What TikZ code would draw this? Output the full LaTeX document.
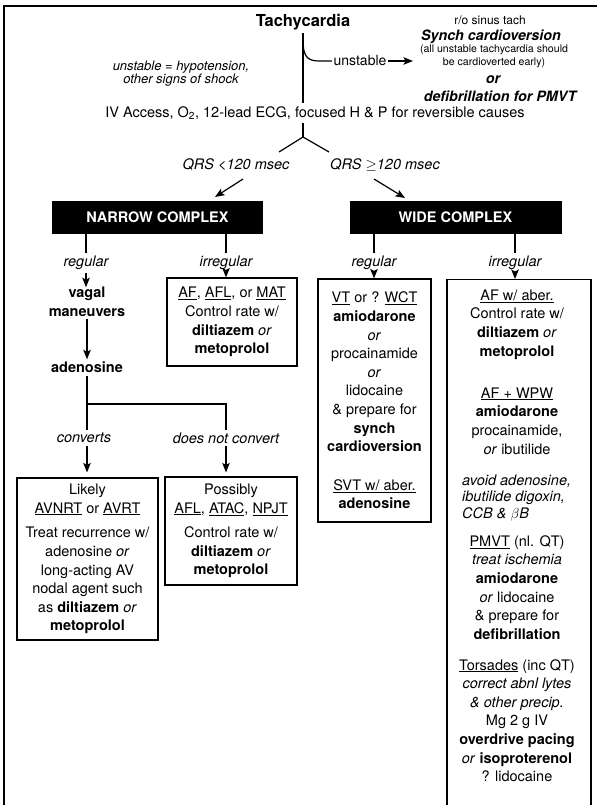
\documentclass[tikz,border=0pt]{standalone}
\usepackage{fontspec}
\setmainfont{TeX Gyre Heros}
\usetikzlibrary{arrows.meta,calc}
\begin{document}
\begin{tikzpicture}[x=1pt,y=-1pt,
  every node/.style={inner sep=0pt},
  ln/.style={line width=1.2pt},
  arr/.style={line width=1.2pt,-{Stealth[length=9.5pt,width=7.5pt,inset=2pt]}},
  body/.style={font=\fontsize{14.5}{18.6}\selectfont,align=center},
  bodyb/.style={font=\fontsize{14.5}{18.6}\selectfont\bfseries,align=center},
  bodyi/.style={font=\fontsize{14.5}{16.8}\selectfont\itshape,align=left},
  lbl/.style={font=\fontsize{14.5}{17}\selectfont\itshape,inner sep=2.5pt},
  bi/.style={font=\fontsize{14.3}{16}\selectfont\bfseries\itshape},
  tbox/.style={draw,line width=1.2pt,body},
  hdr/.style={fill=black,text=white,font=\fontsize{14.5}{17}\selectfont\bfseries,minimum height=33pt},
]
\useasboundingbox (0,0) rectangle (597,805);
\fill[white] (0,0) rectangle (597,805);
% frame
\draw[ln] (597,6) -- (4,6) -- (4,805);

% top
\node[font=\fontsize{16.5}{20}\selectfont\bfseries] (tach) at (303,22) {Tachycardia};
\node[font=\fontsize{14.5}{17}\selectfont] (iv) at (315,113) {IV Access, O\textsubscript{2}, 12-lead ECG, focused H \& P for reversible causes};
\draw[ln,shorten <=3pt,shorten >=3pt] (tach.south -| 303,0) -- (303,0 |- iv.north);

\coordinate (cv) at (303,40);
\node[font=\fontsize{14}{16}\selectfont,inner sep=1.5pt] (unst) at (360,61) {unstable};
\draw[ln] (cv) .. controls (303,56) and (307,61) .. (319,61) -- (unst.west);
\coordinate (ua) at (413,61);
\draw[arr] (unst.east) -- (ua);

\node[font=\fontsize{12}{14}\selectfont] (ro) at (490,20) {r/o sinus tach};
\node[bi] (synch) at (491,37) {Synch cardioversion};
\node[font=\fontsize{10.6}{13}\selectfont,align=center] (allu) at (494,56.5) {(all unstable tachycardia should\\be cardioverted early)};
\node[bi] (or1) at (493,80) {or};
\node[bi] (defib) at (500,96) {defibrillation for PMVT};

\node[font=\fontsize{13}{13.5}\selectfont\itshape,align=center] (note) at (181,73.5) {unstable = hypotension,\\other signs of shock};

% branch
\coordinate (apex) at (303,137);
\coordinate (bl) at (279,152);
\coordinate (brr) at (329,152);
\draw[ln,shorten <=3pt] (303,0 |- iv.south) -- (apex);
\draw[ln] (bl) -- (apex) -- (brr);

\node[lbl] (qrsl) at (236,165) {QRS <120 msec};
\node[lbl] (qrsr) at (385,165) {QRS $\geq$120 msec};
\coordinate (qa1) at (243,179); \coordinate (qa2) at (215,197);
\coordinate (qb1) at (374,179); \coordinate (qb2) at (405,198);
\draw[arr] (qa1) -- (qa2);
\draw[arr] (qb1) -- (qb2);

\node[hdr,minimum width=211pt] (narrow) at (157.5,217.5) {NARROW COMPLEX};
\node[hdr,minimum width=212pt] (wide) at (455.5,217.5) {WIDE COMPLEX};

\node[lbl] (nreg) at (86,263) {regular};
\node[lbl] (nirr) at (226,263) {irregular};
\node[lbl] (wreg) at (374,263) {regular};
\node[lbl] (wirr) at (515,263) {irregular};

% narrow side
\node[tbox,minimum width=130pt,minimum height=88pt] (afb) at (232,322) {\underline{AF}, \underline{AFL}, or \underline{MAT}\\Control rate w/\\\textbf{diltiazem} \textit{or}\\\textbf{metoprolol}};
\node[bodyb] (vagal) at (87,302) {vagal\\maneuvers};
\node[bodyb] (aden) at (87,367) {adenosine};

\draw[ln] (narrow.south -| nreg.north) -- (nreg.north);
\draw[arr] (nreg.south) -- (nreg.south |- vagal.north);
\draw[ln] (narrow.south -| nirr.north) -- (nirr.north);
\draw[arr] (nirr.south) -- (nirr.south |- afb.north);
\draw[arr,shorten <=2pt,shorten >=2pt] (vagal.south) -- (aden.north);

\node[lbl] (conv) at (84,438) {converts};
\node[lbl] (dnc) at (226,438) {does not convert};
\coordinate (jn) at (87,404);
\draw[ln,shorten <=3pt] (aden.south) -- (aden.south |- conv.north);
\draw[ln] (jn) -| (dnc.north);

\node[tbox,minimum width=141pt,minimum height=162pt] (likely) at (87.5,559) {Likely\\\underline{AVNRT} or \underline{AVRT}\\[6pt]Treat recurrence w/\\adenosine \textit{or}\\long-acting AV\\nodal agent such\\as \textbf{diltiazem} \textit{or}\\\textbf{metoprolol}};
\node[tbox,minimum width=132pt,minimum height=108pt] (poss) at (231,531) {Possibly\\\underline{AFL}, \underline{ATAC}, \underline{NPJT}\\[6pt]Control rate w/\\\textbf{diltiazem} \textit{or}\\\textbf{metoprolol}};
\draw[arr,shorten >=5pt] (aden.south |- conv.south) -- (aden.south |- likely.north);
\draw[arr,shorten >=4pt] (dnc.south) -- (dnc.south |- poss.north);

% wide side
\node[tbox,minimum width=113pt,minimum height=243pt] (vt) at (374.5,400.5) {\underline{VT} or ? \underline{WCT}\\\textbf{amiodarone}\\\textit{or}\\procainamide\\\textit{or}\\lidocaine\\\& prepare for\\\textbf{synch}\\\textbf{cardioversion}\\[20pt]\underline{SVT w/ aber.}\\\textbf{adenosine}};
\node[draw,line width=1.2pt,minimum width=144pt,minimum height=560pt,anchor=north] (awab) at (519,279) {};

\draw[ln] (wide.south -| wreg.north) -- (wreg.north);
\draw[arr] (wreg.south) -- (wreg.south |- vt.north);
\draw[ln] (wide.south -| wirr.north) -- (wirr.north);
\draw[arr] (wirr.south) -- (wirr.south |- awab.north);

\node[body] (b1) at (517,324.5) {\underline{AF w/ aber.}\\Control rate w/\\\textbf{diltiazem} \textit{or}\\\textbf{metoprolol}};
\node[body] (b2) at (517,421) {\underline{AF + WPW}\\\textbf{amiodarone}\\procainamide,\\\textit{or} ibutilide};
\node[bodyi,anchor=west] (b3) at (462,498) {avoid adenosine,\\ibutilide digoxin,\\CCB \& $\beta$B};
\node[body] (b4) at (517,587.5) {\underline{PMVT} (nl. QT)\\\textit{treat ischemia}\\\textbf{amiodarone}\\\textit{or} lidocaine\\\& prepare for\\\textbf{defibrillation}};
\node[body] (b5) at (517,720.5) {\underline{Torsades} (inc QT)\\\textit{correct abnl lytes}\\\textit{\& other precip.}\\Mg 2 g IV\\\textbf{overdrive pacing}\\\textit{or} \textbf{isoproterenol}\\? lidocaine};
\end{tikzpicture}
\end{document}
